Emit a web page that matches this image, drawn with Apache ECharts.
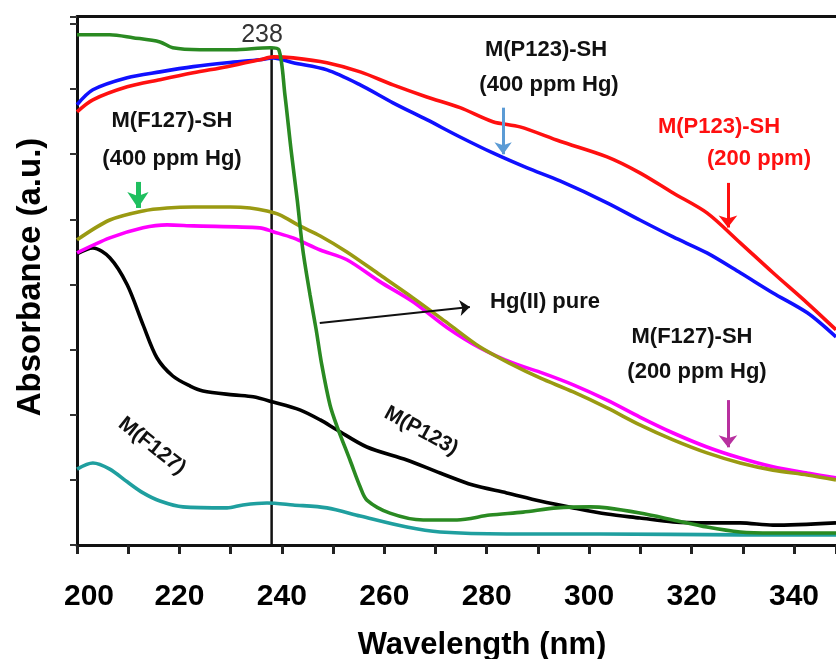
<!DOCTYPE html>
<html><head><meta charset="utf-8">
<script src="https://cdn.jsdelivr.net/npm/echarts@6/dist/echarts.min.js"></script>
<style>html,body{margin:0;padding:0;background:#fff}#c{width:836px;height:659px}</style>
</head><body><div id="c"></div>
<script>
// ---- data (wavelength in nm, absorbance in a.u.) ----
const hgPureX = [200,206.4,210.9,216.2,218.7,224,230.5,237.7,239.4,240.6,241.8,243,244.1,245.5,246.7,247.8,249.4,250.8,253.3,255.3,256.6,261.1,267.6,274.2,280.6,287.1,293.7,300.2,303.5,309.9,316.4,323,329.5,335.9,348.2];
const hgPureY = [1.567,1.567,1.558,1.545,1.527,1.521,1.521,1.527,1.521,1.382,1.213,1.060,0.906,0.768,0.661,0.553,0.430,0.363,0.261,0.178,0.138,0.098,0.077,0.077,0.092,0.101,0.114,0.117,0.114,0.098,0.077,0.055,0.040,0.037,0.037];

const p123sh200X = [200,203.1,209.8,216.2,222.7,229.3,235.7,238.3,242.2,248.8,255.3,261.7,268.3,274.8,281.2,286.5,294.3,303.5,309.9,316.4,323,329.5,335.9,342.6,348.2];
const p123sh200Y = [1.330,1.367,1.407,1.429,1.450,1.469,1.490,1.499,1.496,1.481,1.453,1.413,1.376,1.343,1.300,1.284,1.240,1.192,1.143,1.081,1.020,0.928,0.836,0.743,0.661];

const p123sh400X = [200,203.1,209.8,216.2,222.7,229.3,235.7,238.3,242.2,248.8,255.3,261.7,268.3,274.8,281.2,287.9,294.3,303.5,309.9,316.4,323,329.5,335.9,342.6,348.2];
const p123sh400Y = [1.352,1.398,1.435,1.453,1.469,1.481,1.490,1.496,1.481,1.459,1.413,1.358,1.306,1.253,1.204,1.158,1.118,1.051,0.998,0.946,0.897,0.836,0.774,0.713,0.639];

const f127sh400X = [200,206.4,212.9,217.6,222.7,229.9,233.8,237.1,239.6,243.5,247.5,252.7,259.2,265.6,272.3,278.7,285.1,290.4,296.9,303.5,309.9,316.4,323,329.5,335.9,342.6,348.2];
const f127sh400Y = [0.937,0.998,1.026,1.035,1.038,1.038,1.035,1.026,1.014,0.980,0.949,0.900,0.829,0.759,0.682,0.608,0.553,0.513,0.470,0.421,0.369,0.323,0.283,0.252,0.230,0.215,0.200];

const f127sh200X = [200,206.4,212.9,217.6,222.7,235.7,238.3,242.2,247.5,252.7,259.2,265.6,272.3,278.7,285.1,290.4,296.9,303.5,309.9,316.4,323,329.5,335.9,342.6,348.2];
const f127sh200Y = [0.897,0.943,0.974,0.983,0.980,0.974,0.962,0.943,0.906,0.876,0.808,0.747,0.667,0.605,0.559,0.531,0.492,0.445,0.393,0.344,0.301,0.267,0.240,0.221,0.206];

const p123X = [200,203.1,206.4,209.8,212.9,215.6,218.7,222.1,224.6,230.5,234.4,238.3,243.5,247.5,250.8,256.6,264.4,270.9,277.3,283.9,290.4,296.9,303.5,309.9,316.4,323,329.5,335.9,348.2];
const p123Y = [0.894,0.912,0.882,0.799,0.676,0.575,0.519,0.488,0.473,0.461,0.455,0.439,0.415,0.384,0.353,0.301,0.261,0.221,0.184,0.160,0.135,0.114,0.095,0.083,0.071,0.068,0.068,0.061,0.068];

const f127X = [200,203.1,206.4,209.8,212.9,216.2,220.7,229.3,232.4,237.1,242.2,248.8,255.3,264.4,270.9,283.9,302.1,329.5,348.2];
const f127Y = [0.233,0.252,0.233,0.194,0.160,0.135,0.117,0.114,0.123,0.129,0.123,0.114,0.089,0.055,0.040,0.034,0.034,0.031,0.031];

// vertical marker at 238 nm
const peakX = [238, 238];
const peakY = [1.530, 0];

// annotation arrows: [x0, y0, x1, y1] in data units (tip at x1,y1)
const arrowGreen   = [211.9, 1.115, 211.9, 1.035];
const arrowBlue    = [283.2, 1.343, 283.2, 1.200];
const arrowRed     = [327.1, 1.112, 327.1, 0.975];
const arrowMagenta = [327.1, 0.445, 327.1, 0.300];
const arrowHg      = [247.4, 0.682, 276.7, 0.731];

const xMin = 200, xMax = 348.2, yMin = 0, yMax = 1.623;

const zip = (xs, ys) => xs.map((x, i) => [x, ys[i]]);

function curve(name, xs, ys, color, w) {
  return { name, type: 'line', data: zip(xs, ys), showSymbol: false, smooth: 0.3,
    lineStyle: { color, width: w || 3.6 }, itemStyle: { color }, silent: true, animation: false, z: 3 };
}
function arrow(a, color, w, head) {
  return { type: 'line', data: [], silent: true, animation: false, z: 5,
    markLine: { silent: true, animation: false, symbol: ['none', 'arrow'], symbolSize: head,
      label: { show: false }, lineStyle: { color, width: w, type: 'solid' },
      emphasis: { disabled: true },
      data: [[{ coord: [a[0], a[1]] }, { coord: [a[2], a[3]] }]] } };
}

const chart = echarts.init(document.getElementById('c'), null, { renderer: 'canvas' });
const F = 'Liberation Sans, Arial, sans-serif';
function label(text, x, y, color, size, rot) {
  return { type: 'text', x, y, rotation: rot || 0, z: 10,
    style: { text, fill: color || '#111', font: 'bold ' + (size || 22) + 'px ' + F,
      textAlign: 'center', textVerticalAlign: 'middle' } };
}

chart.setOption({
  backgroundColor: '#fff',
  animation: false,
  grid: { left: 77, right: 0, top: 16.5, bottom: 114, containLabel: false, outerBoundsMode: 'none' },
  xAxis: [{
    type: 'value', min: xMin, max: xMax, interval: 10, position: 'bottom',
    axisLine: { show: true, lineStyle: { color: '#111', width: 3 } },
    axisTick: { show: true, inside: false, length: 9, lineStyle: { color: '#222', width: 3 } },
    splitLine: { show: false },
    axisLabel: { margin: 37, color: '#000', fontFamily: F, fontWeight: 'bold', fontSize: 30,
      formatter: v => (Math.abs(v % 20) < 1e-6 ? (v === 200 ? '{a|200}' : String(v)) : ''),
      rich: { a: { padding: [0, 0, 0, 24], color: '#000', fontFamily: F, fontWeight: 'bold', fontSize: 30 } } }
  }, {
    type: 'value', min: xMin, max: xMax, position: 'top',
    axisLine: { show: true, lineStyle: { color: '#111', width: 3 } },
    axisTick: { show: false }, axisLabel: { show: false }, splitLine: { show: false }
  }],
  yAxis: {
    type: 'value', min: yMin, max: yMax, interval: 0.2,
    axisLine: { show: true, lineStyle: { color: '#111', width: 3 } },
    axisTick: { show: true, inside: false, length: 7, lineStyle: { color: '#333', width: 2 } },
    axisLabel: { show: false }, splitLine: { show: false }
  },
  series: [
    { type: 'line', data: zip(peakX, peakY), showSymbol: false, silent: true, animation: false, z: 2,
      lineStyle: { color: '#111', width: 2.5 } },
    curve('M(F127)', f127X, f127Y, '#1f9f9f'),
    curve('M(P123)', p123X, p123Y, '#000000'),
    curve('M(F127)-SH (200 ppm Hg)', f127sh200X, f127sh200Y, '#ff00ff'),
    curve('M(F127)-SH (400 ppm Hg)', f127sh400X, f127sh400Y, '#9a9a12'),
    curve('M(P123)-SH (400 ppm Hg)', p123sh400X, p123sh400Y, '#1010ff'),
    curve('M(P123)-SH (200 ppm)', p123sh200X, p123sh200Y, '#ff1010'),
    curve('Hg(II) pure', hgPureX, hgPureY, '#2a8a22'),
    arrow(arrowGreen, '#1fbf5f', 5, [16, 16]),
    arrow(arrowBlue, '#5b9bd5', 3, [13, 12]),
    arrow(arrowRed, '#ff1010', 3, [14, 12]),
    arrow(arrowMagenta, '#b8309f', 3, [14, 12]),
    arrow(arrowHg, '#111', 2, [12, 10])
  ],
  graphic: [
    { type: 'text', x: 262, y: 35, z: 10, style: { text: '238', fill: '#333', font: '25px ' + F, textAlign: 'center', textVerticalAlign: 'middle' } },
    label('M(F127)-SH', 172, 121),
    label('(400 ppm Hg)', 172, 159),
    label('M(P123)-SH', 546, 50),
    label('(400 ppm Hg)', 549, 85),
    label('M(P123)-SH', 719, 127, '#ff1010'),
    label('(200 ppm)', 759, 159, '#ff1010'),
    label('Hg(II) pure', 545, 302),
    label('M(F127)-SH', 692, 337),
    label('(200 ppm Hg)', 697, 372),
    label('M(F127)', 152, 446, '#111', 21, -0.67),
    label('M(P123)', 421, 431, '#111', 21, -0.5),
    { type: 'text', x: 482, y: 645, z: 10, style: { text: 'Wavelength (nm)', fill: '#000', font: 'bold 31px ' + F, textAlign: 'center', textVerticalAlign: 'middle' } },
    { type: 'text', x: 31, y: 277, rotation: Math.PI / 2, z: 10, style: { text: 'Absorbance (a.u.)', fill: '#000', font: 'bold 33px ' + F, textAlign: 'center', textVerticalAlign: 'middle' } }
  ]
});
</script></body></html>
